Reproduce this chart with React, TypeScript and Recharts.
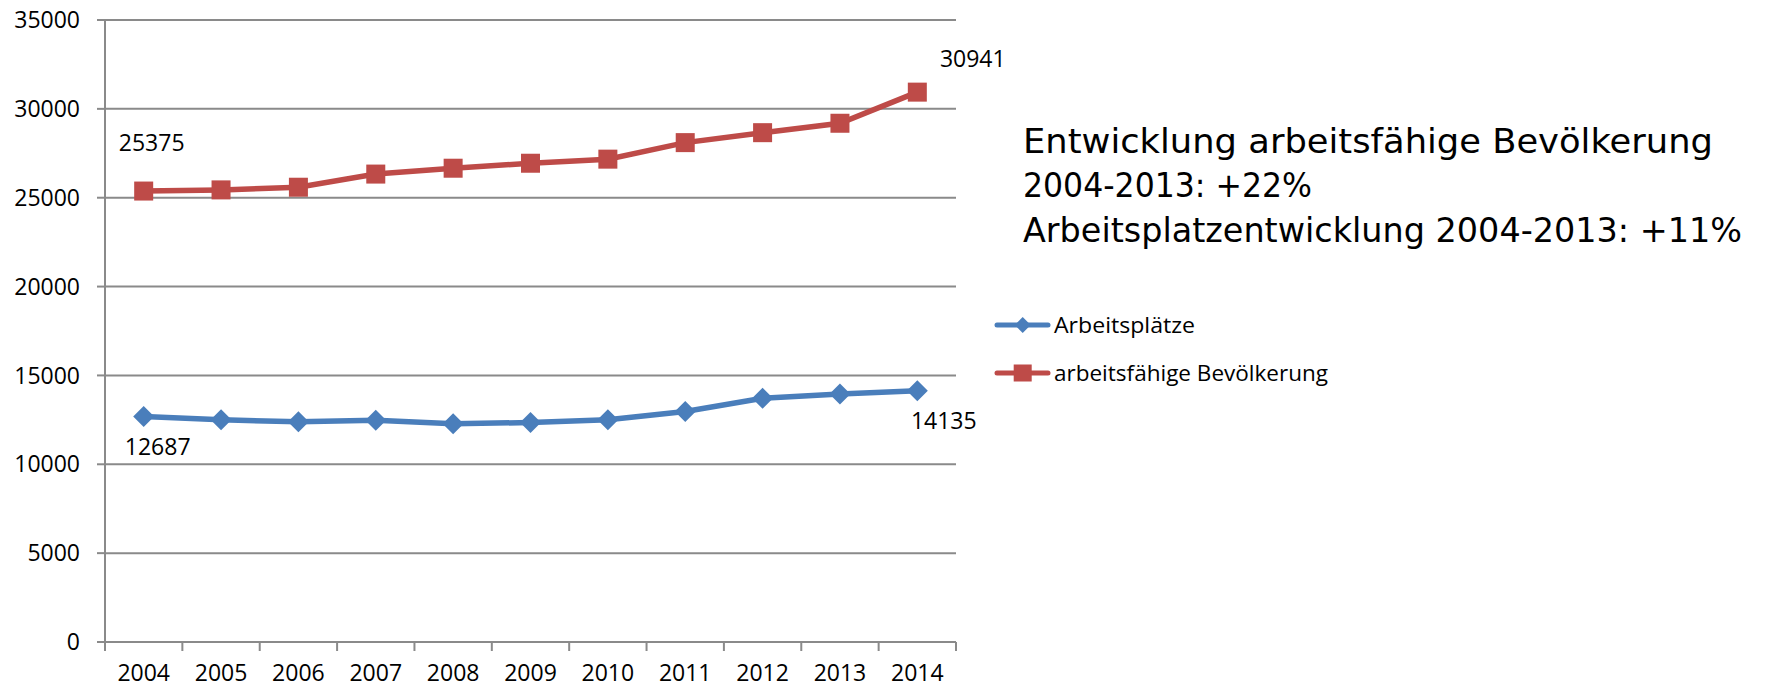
import React from 'react';
import { LineChart, Line, XAxis, YAxis, CartesianGrid, Legend, LabelList } from 'recharts';

const years = ['2004', '2005', '2006', '2007', '2008', '2009', '2010', '2011', '2012', '2013', '2014'];
const arbeitsplaetze = [12687, 12500, 12390, 12480, 12280, 12350, 12500, 12970, 13720, 13950, 14135];
const bevoelkerung = [25375, 25440, 25590, 26330, 26660, 26940, 27170, 28100, 28660, 29190, 30941];
const yTicks = [0, 5000, 10000, 15000, 20000, 25000, 30000, 35000];
const titleLines = [
  'Entwicklung arbeitsfähige Bevölkerung',
  '2004-2013: +22%',
  'Arbeitsplatzentwicklung 2004-2013: +11%',
];
const seriesNames = { a: 'Arbeitsplätze', b: 'arbeitsfähige Bevölkerung' };

const data = years.map((y, i) => ({ year: y, a: arbeitsplaetze[i], b: bevoelkerung[i] }));

const W = 1771;
const H = 688;
const MARGIN = { top: 20, right: 815, bottom: 0, left: 0 };
const Y_W = 105;
const X_H = 46;
const PLOT_W = W - MARGIN.right - MARGIN.left - Y_W;

const BLUE = '#4A7EBB';
const RED = '#BE4B48';
const GRID = '#8A8A8A';
const FONT = '"Open Sans", "Noto Sans", sans-serif';

const Diamond = (p: any) => {
  const { cx, cy, index } = p;
  if (cx == null || cy == null) return <g key={`d-${index}`} />;
  const r = 10.5;
  return (
    <polygon
      key={`d-${index}`}
      points={`${cx},${cy - r} ${cx + r},${cy} ${cx},${cy + r} ${cx - r},${cy}`}
      fill={BLUE}
    />
  );
};

const Square = (p: any) => {
  const { cx, cy, index } = p;
  if (cx == null || cy == null) return <g key={`s-${index}`} />;
  const s = 19;
  return <rect key={`s-${index}`} x={cx - s / 2} y={cy - s / 2} width={s} height={s} fill={RED} />;
};

const makeLabel = (offsets: Record<number, [number, number]>) => (props: any) => {
  const { x, y, value, index } = props;
  const off = offsets[index];
  if (!off || x == null || y == null) return null;
  return (
    <text
      key={`l-${index}`}
      x={x + off[0]}
      y={y + off[1]}
      textAnchor="middle"
      dy="0.355em"
      fontFamily={FONT}
      fontSize={23}
      fill="#000"
    >
      {value}
    </text>
  );
};

const XTick = (props: any) => {
  const { x, y, payload, index } = props;
  const n = years.length;
  const bw = PLOT_W / n;
  return (
    <g>
      <line x1={x - bw / 2} x2={x - bw / 2} y1={y} y2={y + 9} stroke={GRID} strokeWidth={2} />
      {index === n - 1 ? (
        <line x1={x + bw / 2} x2={x + bw / 2} y1={y} y2={y + 9} stroke={GRID} strokeWidth={2} />
      ) : null}
      <text x={x} y={y + 23} dy="0.71em" textAnchor="middle" fontFamily={FONT} fontSize={23} fill="#000">
        {payload.value}
      </text>
    </g>
  );
};

const LegendContent = (props: any) => {
  const payload = props.payload || [];
  return (
    <svg width={400} height={100} style={{ display: 'block' }}>
      {payload.map((entry: any, i: number) => {
        const cy = 25 + 48 * i;
        const isA = entry.dataKey === 'a';
        const color = isA ? BLUE : RED;
        const mx = 42.7;
        return (
          <g key={`leg-${i}`}>
            <line x1={17} x2={68} y1={cy} y2={cy} stroke={color} strokeWidth={5} strokeLinecap="round" />
            {isA ? (
              <polygon points={`${mx},${cy - 8} ${mx + 8},${cy} ${mx},${cy + 8} ${mx - 8},${cy}`} fill={color} />
            ) : (
              <rect x={mx - 9} y={cy - 8.5} width={18} height={17} fill={color} />
            )}
            <text
              x={74}
              y={cy + 7.5}
              fontFamily={FONT}
              fontSize={22}
              fill="#000"
              textLength={isA ? 141 : 274}
              lengthAdjust="spacingAndGlyphs"
            >
              {entry.value}
            </text>
          </g>
        );
      })}
    </svg>
  );
};

const titleBaselines = [152.5, 197.3, 241.7];
const titleWidths = [690, 289, 719];

export default function App() {
  return (
    <div style={{ position: 'absolute', left: 0, top: 0, width: W, height: H, background: '#fff' }}>
      <LineChart width={W} height={H} data={data} margin={MARGIN}>
        <CartesianGrid vertical={false} stroke={GRID} strokeWidth={2} />
        <XAxis
          dataKey="year"
          scale="band"
          height={X_H}
          axisLine={{ stroke: GRID, strokeWidth: 2 }}
          tickLine={false}
          tickSize={0}
          tickMargin={0}
          interval={0}
          tick={<XTick />}
        />
        <YAxis
          width={Y_W}
          domain={[0, 35000]}
          ticks={yTicks}
          interval={0}
          axisLine={{ stroke: GRID, strokeWidth: 2 }}
          tickLine={{ stroke: GRID, strokeWidth: 2 }}
          tickSize={8}
          tickMargin={17}
          tick={{ fontFamily: FONT, fontSize: 23, fill: '#000' }}
        />
        <Legend
          layout="vertical"
          align="center"
          verticalAlign="middle"
          wrapperStyle={{ left: 980, top: 300, width: 400, height: 100 }}
          content={<LegendContent />}
        />
        <Line
          dataKey="a"
          name={seriesNames.a}
          stroke={BLUE}
          strokeWidth={5.5}
          dot={Diamond}
          activeDot={false}
          isAnimationActive={false}
        >
          <LabelList dataKey="a" content={makeLabel({ 0: [14, 30], 10: [26.5, 30] })} />
        </Line>
        <Line
          dataKey="b"
          name={seriesNames.b}
          stroke={RED}
          strokeWidth={5.5}
          dot={Square}
          activeDot={false}
          isAnimationActive={false}
        >
          <LabelList dataKey="b" content={makeLabel({ 0: [8, -48], 10: [55.5, -33.4] })} />
        </Line>
      </LineChart>
      <svg
        width={W}
        height={H}
        style={{ position: 'absolute', left: 0, top: 0, pointerEvents: 'none' }}
      >
        {titleLines.map((t, i) => (
          <text
            key={`t-${i}`}
            x={1023}
            y={titleBaselines[i]}
            fontFamily='"DejaVu Sans", sans-serif'
            fontSize={33}
            fill="#000"
            textLength={titleWidths[i]}
            lengthAdjust="spacingAndGlyphs"
          >
            {t}
          </text>
        ))}
      </svg>
    </div>
  );
}
